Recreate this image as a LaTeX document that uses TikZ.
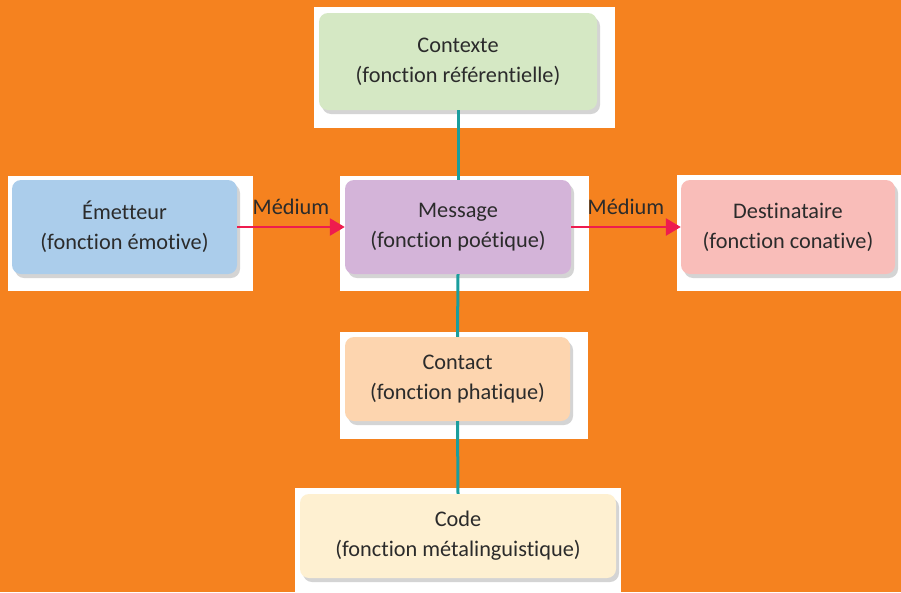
\documentclass[tikz,border=0pt]{standalone}
\usepackage{fontspec}
\setmainfont{Carlito}[Ligatures={NoCommon,NoContextual}]
\usetikzlibrary{shadows,arrows.meta}
\definecolor{bgorange}{HTML}{F5821F}
\definecolor{cctx}{HTML}{D5E8C4}
\definecolor{cemt}{HTML}{ABCDEB}
\definecolor{cmsg}{HTML}{D4B4D9}
\definecolor{cdst}{HTML}{F9BDB9}
\definecolor{ccon}{HTML}{FDD5AF}
\definecolor{ccod}{HTML}{FEF0D1}
\definecolor{teal}{HTML}{1A9E9E}
\definecolor{arrred}{HTML}{EE1C4E}
\definecolor{txt}{HTML}{2B2B2B}
\tikzset{
  fbox/.style={rounded corners=9pt, align=center, text=txt, inner sep=0pt,
    font=\fontsize{22.3}{30}\selectfont,
    drop shadow={opacity=0.28, shadow xshift=3pt, shadow yshift=-4pt, fill=black!60}},
  wbg/.style={fill=white, draw=none},
  link/.style={draw=teal, line width=3pt},
  flow/.style={draw=arrred, line width=2.6pt, -{Triangle[length=15pt,width=17pt]}},
  lbl/.style={text=txt, font=\fontsize{22.3}{24}\selectfont, inner sep=0pt}
}
\begin{document}
\begin{tikzpicture}[x=1pt,y=-1pt]
\fill[bgorange] (0,0) rectangle (901,592);
\useasboundingbox (0,0) rectangle (901,592);
% white backgrounds
\fill[wbg] (314,7) rectangle (615,128);
\fill[wbg] (8,176) rectangle (253,291);
\fill[wbg] (340,176) rectangle (589,291);
\fill[wbg] (677,175) rectangle (901,291);
\fill[wbg] (340,332) rectangle (588,439);
\fill[wbg] (295,488) rectangle (621,592);
% boxes
\node[fbox, fill=cctx, minimum width=278pt, minimum height=97pt] (ctx) at (458,61.5) {Contexte\\(fonction référentielle)};
\node[fbox, fill=cemt, minimum width=225pt, minimum height=94pt] (emt) at (124.5,227) {Émetteur\\(fonction émotive)};
\node[fbox, fill=cmsg, minimum width=226pt, minimum height=94pt] (msg) at (458,227) {Message\\(fonction poétique)};
\node[fbox, fill=cdst, minimum width=214pt, minimum height=94pt] (dst) at (788,227) {Destinataire\\(fonction conative)};
\node[fbox, fill=ccon, minimum width=225pt, minimum height=84pt] (con) at (457.5,379) {Contact\\(fonction phatique)};
\node[fbox, fill=ccod, minimum width=316pt, minimum height=84pt] (cod) at (458,536) {Code\\(fonction métalinguistique)};
% connectors
\draw[link] (ctx.south) -- (msg.north);
\draw[link] (msg.south) -- (con.north);
\draw[link] (con.south) -- (cod.north);
\draw[flow] (emt.east) -- node[lbl, above=11pt] (m1) {Médium} (msg.west);
\draw[flow] (msg.east) -- node[lbl, above=11pt] (m2) {Médium} (dst.west);
\end{tikzpicture}
\end{document}
